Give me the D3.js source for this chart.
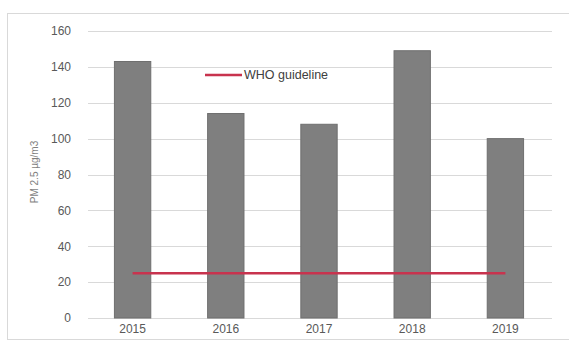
<!DOCTYPE html>
<html>
<head>
<meta charset="utf-8">
<script src="https://cdn.jsdelivr.net/npm/d3@7"></script>
<style>
  body { margin: 0; background: #fff; }
  text { font-family: "Liberation Sans", Arial, sans-serif; }
</style>
</head>
<body>
<div class="canvas"></div>
<script>
const years = ['2015', '2016', '2017', '2018', '2019']
const pm25 = [143, 114, 108, 149, 100]
const whoGuideline = [25, 25, 25, 25, 25]
const yTicks = [0, 20, 40, 60, 80, 100, 120, 140, 160]

const size = { width: 569, height: 350 }
const plot = { left: 86, right: 552, top: 31, bottom: 318 }

const svg = d3.select('.canvas')
  .append('svg')
    .attr('width', size.width)
    .attr('height', size.height)

// chart frame
svg.append('rect')
  .attr('x', 7.5).attr('y', 13.5)
  .attr('width', 570).attr('height', 326)
  .attr('fill', '#fff')
  .attr('stroke', '#d9d9d9')

const x = d3.scaleBand()
  .domain(years)
  .range([plot.left, plot.right])
  .paddingInner(0.61)
  .paddingOuter(0.305)

const y = d3.scaleLinear()
  .domain([0, 160])
  .range([plot.bottom, plot.top])

// gridlines
svg.append('g')
  .selectAll('line')
  .data(yTicks)
  .enter().append('line')
    .attr('x1', plot.left + 2).attr('x2', plot.right)
    .attr('y1', d => Math.round(y(d)) + 0.5)
    .attr('y2', d => Math.round(y(d)) + 0.5)
    .attr('stroke', '#d9d9d9')

// y axis labels
const yAxis = d3.axisLeft(y).tickValues(yTicks).tickSize(0).tickPadding(8)
svg.append('g')
  .attr('transform', `translate(${plot.left - 7}, 0)`)
  .call(yAxis)
  .call(g => g.select('.domain').remove())
  .selectAll('text')
    .attr('font-size', 12)
    .attr('fill', '#595959')

// x axis labels
const xAxis = d3.axisBottom(x).tickSize(0).tickPadding(6)
svg.append('g')
  .attr('transform', `translate(0, ${plot.bottom})`)
  .call(xAxis)
  .call(g => g.select('.domain').remove())
  .selectAll('text')
    .attr('font-size', 12)
    .attr('fill', '#595959')

// bars
svg.append('g')
  .selectAll('rect')
  .data(pm25)
  .enter().append('rect')
    .attr('x', (d, i) => x(years[i]))
    .attr('y', d => y(d))
    .attr('width', x.bandwidth())
    .attr('height', d => y(0) - y(d))
    .attr('fill', '#7f7f7f')
    .attr('stroke', '#6f6f6f')
    .attr('stroke-width', 1)

// WHO guideline line
const line = d3.line()
  .x((d, i) => x(years[i]) + x.bandwidth() / 2)
  .y(d => y(d))

svg.append('path')
  .datum(whoGuideline)
  .attr('d', line)
  .attr('fill', 'none')
  .attr('stroke', '#c8334e')
  .attr('stroke-width', 2.5)

// legend
const legendGroup = svg.append('g')
  .attr('transform', 'translate(205, 75)')
legendGroup.append('line')
  .attr('x1', 0).attr('x2', 37)
  .attr('stroke', '#c8334e')
  .attr('stroke-width', 2.5)
legendGroup.append('text')
  .attr('x', 39).attr('dy', '0.35em')
  .attr('font-size', 12.5)
  .attr('fill', '#404040')
  .text('WHO guideline')

// y axis title
svg.append('text')
  .attr('transform', 'translate(38, 172) rotate(-90)')
  .attr('text-anchor', 'middle')
  .attr('font-size', 10)
  .attr('fill', '#7f7f7f')
  .text('PM 2.5 µg/m3')
</script>
</body>
</html>
